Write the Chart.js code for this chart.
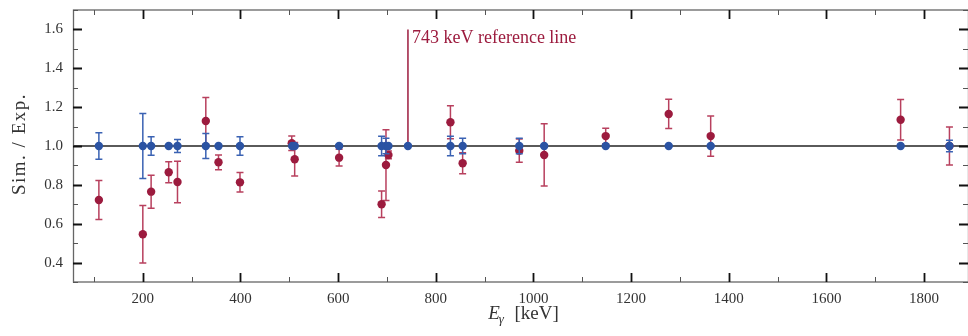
<!DOCTYPE html>
<html>
<head>
<meta charset="utf-8">
<script src="https://cdn.jsdelivr.net/npm/chart.js@4.4.1/dist/chart.umd.min.js"></script>
<style>
  html, body { margin: 0; padding: 0; background: #ffffff; }
  #wrap { width: 968px; height: 336px; }
</style>
</head>
<body>
<div id="wrap"><canvas id="c" width="968" height="336"></canvas></div>
<script>
// ---- data ----
const energiesBlue = [110, 200, 217, 253, 271, 329, 355, 399, 506, 511, 602, 689, 698, 703, 743, 830, 855, 971, 1022, 1148, 1277, 1363, 1752, 1852];
const ratioBlue    = [1.0, 1.0, 1.0, 1.0, 1.0, 1.0, 1.0, 1.0, 1.0, 1.0, 1.0, 1.0, 1.0, 1.0, 1.0, 1.0, 1.0, 1.0, 1.0, 1.0, 1.0, 1.0, 1.0, 1.0];
const errBlue      = [0.068, 0.167, 0.048, 0.006, 0.034, 0.064, 0, 0.047, 0.006, 0.008, 0.006, 0.05, 0.04, 0, 0, 0.05, 0.04, 0.04, 0.006, 0.006, 0.006, 0.006, 0.008, 0.03];

const energiesRed = [110, 200, 217, 253, 271, 329, 355, 399, 505, 511, 602, 689, 698, 703, 830, 855, 971, 1022, 1148, 1277, 1363, 1752, 1852];
const ratioRed    = [0.722, 0.546, 0.765, 0.865, 0.815, 1.129, 0.916, 0.813, 1.014, 0.932, 0.94, 0.70, 0.902, 0.954, 1.122, 0.911, 0.976, 0.954, 1.051, 1.165, 1.051, 1.135, 1.00];
const errRed      = [0.10, 0.148, 0.085, 0.054, 0.107, 0.12, 0.038, 0.05, 0.037, 0.086, 0.043, 0.068, 0.182, 0.02, 0.085, 0.054, 0.06, 0.16, 0.04, 0.075, 0.104, 0.104, 0.098];

const refEnergy = 743;
const refLineRange = [1.0, 1.6];
const refLabel = '743 keV reference line';
const unityRatio = 1.0;

const xRange = [57, 1890];
const yRange = [0.3, 1.7];
const xTicks = [200, 400, 600, 800, 1000, 1200, 1400, 1600, 1800];
const yTicks = [0.4, 0.6, 0.8, 1.0, 1.2, 1.4, 1.6];
const xMinorStep = 100;
const yMinorStep = 0.1;

const BLUE = '#2b53a3';
const BLUE_ERR = '#3a62b3';
const RED = '#9c1b3e';
const RED_ERR = '#b8405e';
const SERIF = '"Liberation Serif", "DejaVu Serif", serif';

const toPoints = (xs, ys) => xs.map((x, i) => ({ x: x, y: ys[i] }));

// ---- plugins ----
const errorBars = {
  id: 'errorBars',
  beforeDatasetDraw(chart, args) {
    const ds = chart.data.datasets[args.index];
    if (!ds.errors) return;
    const xs = chart.scales.x, ys = chart.scales.y, ctx = chart.ctx;
    ctx.save();
    ctx.strokeStyle = ds.errColor;
    ctx.lineWidth = 1.5;
    ds.data.forEach((p, i) => {
      const e = ds.errors[i];
      if (!e) return;
      const px = xs.getPixelForValue(p.x);
      const y1 = ys.getPixelForValue(p.y + e);
      const y2 = ys.getPixelForValue(p.y - e);
      ctx.beginPath();
      ctx.moveTo(px, y1); ctx.lineTo(px, y2);
      ctx.moveTo(px - 3.5, y1); ctx.lineTo(px + 3.5, y1);
      ctx.moveTo(px - 3.5, y2); ctx.lineTo(px + 3.5, y2);
      ctx.stroke();
    });
    ctx.restore();
  }
};

const frameTicks = {
  id: 'frameTicks',
  afterDraw(chart) {
    const { ctx, chartArea: a } = chart;
    const xs = chart.scales.x, ys = chart.scales.y;
    ctx.save();
    // frame
    ctx.strokeStyle = '#666';
    ctx.lineWidth = 1.3;
    ctx.strokeRect(a.left + 0.5, a.top, a.right - a.left, a.bottom - a.top);
    // major ticks
    ctx.strokeStyle = '#111';
    ctx.lineWidth = 1.8;
    ctx.beginPath();
    xTicks.forEach(v => {
      const px = Math.round(xs.getPixelForValue(v)) + 0.5;
      ctx.moveTo(px, a.bottom); ctx.lineTo(px, a.bottom - 9);
      ctx.moveTo(px, a.top); ctx.lineTo(px, a.top + 9);
    });
    yTicks.forEach(v => {
      const py = Math.round(ys.getPixelForValue(v)) + 0.5;
      ctx.moveTo(a.left, py); ctx.lineTo(a.left + 9, py);
      ctx.moveTo(a.right, py); ctx.lineTo(a.right - 9, py);
    });
    ctx.stroke();
    // minor ticks
    ctx.strokeStyle = '#555';
    ctx.lineWidth = 1;
    ctx.beginPath();
    for (let v = Math.ceil(xRange[0] / xMinorStep) * xMinorStep; v <= xRange[1]; v += xMinorStep) {
      if (xTicks.includes(v)) continue;
      const px = Math.round(xs.getPixelForValue(v)) + 0.5;
      ctx.moveTo(px, a.bottom); ctx.lineTo(px, a.bottom - 5);
      ctx.moveTo(px, a.top); ctx.lineTo(px, a.top + 5);
    }
    for (let k = Math.ceil(yRange[0] / yMinorStep); k * yMinorStep <= yRange[1] + 1e-9; k++) {
      const v = +(k * yMinorStep).toFixed(2);
      if (yTicks.some(t => Math.abs(t - v) < 1e-6)) continue;
      const py = Math.round(ys.getPixelForValue(v)) + 0.5;
      ctx.moveTo(a.left, py); ctx.lineTo(a.left + 5, py);
      ctx.moveTo(a.right, py); ctx.lineTo(a.right - 5, py);
    }
    ctx.stroke();

    // reference label
    ctx.fillStyle = RED;
    ctx.font = '18px ' + SERIF;
    ctx.textBaseline = 'alphabetic';
    ctx.textAlign = 'left';
    ctx.fillText(refLabel, xs.getPixelForValue(refEnergy) + 4, ys.getPixelForValue(refLineRange[1]) + 13.5);

    // y title
    ctx.fillStyle = '#333';
    ctx.save();
    ctx.translate(20, (a.top + a.bottom) / 2 - 2);
    ctx.rotate(-Math.PI / 2);
    ctx.font = '19px ' + SERIF;
    ctx.textAlign = 'center';
    ctx.textBaseline = 'middle';
    try { ctx.letterSpacing = '1.5px'; } catch (e) {}
    ctx.fillText('Sim. / Exp.', 0, 0);
    ctx.restore();

    // x title: E_γ [keV]
    const cx = (a.left + a.right) / 2 + 3;
    const base = 319;
    ctx.font = 'italic 19px ' + SERIF;
    const wE = ctx.measureText('E').width;
    ctx.font = 'italic 13px ' + SERIF;
    const wG = ctx.measureText('γ').width;
    ctx.font = '19px ' + SERIF;
    const rest = '  [keV]';
    const wR = ctx.measureText(rest).width;
    let x0 = cx - (wE + wG + wR) / 2;
    ctx.textAlign = 'left';
    ctx.textBaseline = 'alphabetic';
    ctx.font = 'italic 19px ' + SERIF;
    ctx.fillText('E', x0, base);
    ctx.font = 'italic 13px ' + SERIF;
    ctx.fillText('γ', x0 + wE - 1, base + 4);
    ctx.font = '19px ' + SERIF;
    ctx.fillText(rest, x0 + wE + wG, base);
    ctx.restore();
  }
};

new Chart(document.getElementById('c'), {
  type: 'scatter',
  data: {
    datasets: [
      {
        label: 'blue',
        data: toPoints(energiesBlue, ratioBlue),
        errors: errBlue,
        errColor: BLUE_ERR,
        backgroundColor: BLUE,
        borderWidth: 0,
        pointRadius: 4.2,
        pointHoverRadius: 4.2
      },
      {
        label: 'red',
        data: toPoints(energiesRed, ratioRed),
        errors: errRed,
        errColor: RED_ERR,
        backgroundColor: RED,
        borderWidth: 0,
        pointRadius: 4.2,
        pointHoverRadius: 4.2
      },
      {
        label: 'unity',
        data: [{ x: xRange[0], y: unityRatio }, { x: xRange[1], y: unityRatio }],
        showLine: true,
        borderColor: '#5a5a5a',
        borderWidth: 2,
        pointRadius: 0,
        clip: false
      },
      {
        label: 'reference',
        data: [{ x: refEnergy, y: refLineRange[0] }, { x: refEnergy, y: refLineRange[1] }],
        showLine: true,
        borderColor: RED,
        borderWidth: 1.5,
        pointRadius: 0
      }
    ]
  },
  options: {
    responsive: false,
    animation: false,
    events: [],
    layout: { autoPadding: false, padding: { top: 10, right: 0, bottom: 0, left: 0 } },
    plugins: { legend: { display: false }, tooltip: { enabled: false } },
    scales: {
      x: {
        type: 'linear',
        min: xRange[0],
        max: xRange[1],
        grid: { display: false, drawTicks: false, tickLength: 0 },
        border: { display: false },
        afterBuildTicks: s => { s.ticks = xTicks.map(v => ({ value: v })); },
        afterFit: s => { s.height = 54; s.paddingLeft = 0; s.paddingRight = 0; },
        ticks: {
          padding: 8,
          color: '#333',
          font: { family: SERIF, size: 15 },
          maxRotation: 0,
          autoSkip: false,
          callback: v => String(v)
        }
      },
      y: {
        type: 'linear',
        min: yRange[0],
        max: yRange[1],
        grid: { display: false, drawTicks: false, tickLength: 0 },
        border: { display: false },
        afterBuildTicks: s => { s.ticks = yTicks.map(v => ({ value: v })); },
        afterFit: s => { s.width = 73; s.paddingTop = 0; s.paddingBottom = 0; },
        ticks: {
          padding: 10,
          color: '#333',
          font: { family: SERIF, size: 15 },
          autoSkip: false,
          callback: v => Number(v).toFixed(1)
        }
      }
    }
  },
  plugins: [errorBars, frameTicks]
});
</script>
</body>
</html>
